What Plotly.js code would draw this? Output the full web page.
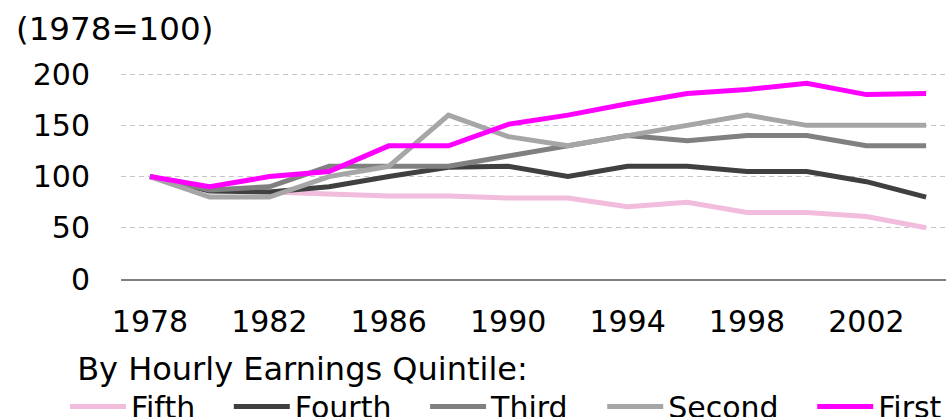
<!DOCTYPE html>
<html>
<head>
<meta charset="utf-8">
<script src="https://cdn.plot.ly/plotly-3.0.1.min.js"></script>
<style>
html, body { margin: 0; padding: 0; overflow: hidden; background: #fff; }
#chart { width: 1000px; height: 417px; }
</style>
</head>
<body>
<div id="chart"></div>
<script>
const years = [1978, 1980, 1982, 1984, 1986, 1988, 1990, 1992, 1994, 1996, 1998, 2000, 2002, 2004];
const fifth  = [100, 87, 85, 83, 81, 81, 79, 79, 70.5, 75, 65, 65, 61, 50];
const fourth = [100, 86, 85, 90, 100, 109, 110, 100, 110, 110, 105, 105, 95, 80];
const third  = [100, 87, 90, 110, 110, 110, 120, 130, 140, 135, 140, 140, 130, 130];
const second = [100, 80, 80, 100, 110, 160, 139, 130, 140, 150, 160, 150, 150, 150];
const first  = [100, 90, 100, 105, 130, 130, 151, 160, 171, 181, 185, 191, 180, 181];
const seriesNames = ["Fifth", "Fourth", "Third", "Second", "First"];
const seriesColors = ["#f2bcdd", "#404040", "#808080", "#a6a6a6", "#ff00ff"];
const tickYears = [1978, 1982, 1986, 1990, 1994, 1998, 2002];
const yTicks = [0, 50, 100, 150, 200];

const allSeries = [fifth, fourth, third, second, first];
const FONT = "DejaVu Sans, Verdana, sans-serif";
const PAD = "\u00a0\u00a0\u00a0";

const traces = allSeries.map((vals, i) => ({
  type: "scatter",
  mode: "lines",
  x: years,
  y: vals,
  name: seriesNames[i] + PAD,
  line: { color: seriesColors[i], width: 5 },
  hoverinfo: "skip"
}));

const layout = {
  width: 1000,
  height: 417,
  paper_bgcolor: "#ffffff",
  plot_bgcolor: "#ffffff",
  font: { family: FONT, size: 30, color: "#000000" },
  margin: { l: 121, r: 30, t: 69, b: 138, autoexpand: false },
  title: {
    text: "(1978=100)",
    font: { family: FONT, size: 32.5, color: "#000000" },
    xref: "container", yref: "container",
    x: 0.016, xanchor: "left",
    y: 1 - 29 / 417, yanchor: "middle"
  },
  xaxis: {
    range: [1977.03, 2005.47],
    tickvals: tickYears,
    ticktext: tickYears.map(String),
    showgrid: false,
    zeroline: false,
    showline: true,
    linecolor: "#7f7f7f",
    linewidth: 2,
    ticks: "",
    ticklabelstandoff: 15,
    tickfont: { family: FONT, size: 30, color: "#000000" }
  },
  yaxis: {
    range: [0, 205],
    tickvals: yTicks,
    showgrid: true,
    gridcolor: "#c6c6c6",
    gridwidth: 1,
    griddash: "5px,4px",
    zeroline: false,
    showline: false,
    ticks: "",
    ticklabelstandoff: 30,
    tickfont: { family: FONT, size: 30, color: "#000000" }
  },
  showlegend: true,
  legend: {
    orientation: "h",
    x: -0.066, xanchor: "left",
    y: -0.285, yanchor: "top",
    bgcolor: "rgba(0,0,0,0)",
    borderwidth: 0,
    itemwidth: 56,
    title: { text: "\u00a0By Hourly Earnings Quintile:", side: "top", font: { family: FONT, size: 32, color: "#000000" } },
    font: { family: FONT, size: 30, color: "#000000" }
  }
};

Plotly.newPlot("chart", traces, layout, { displayModeBar: false, staticPlot: true });
</script>
</body>
</html>
